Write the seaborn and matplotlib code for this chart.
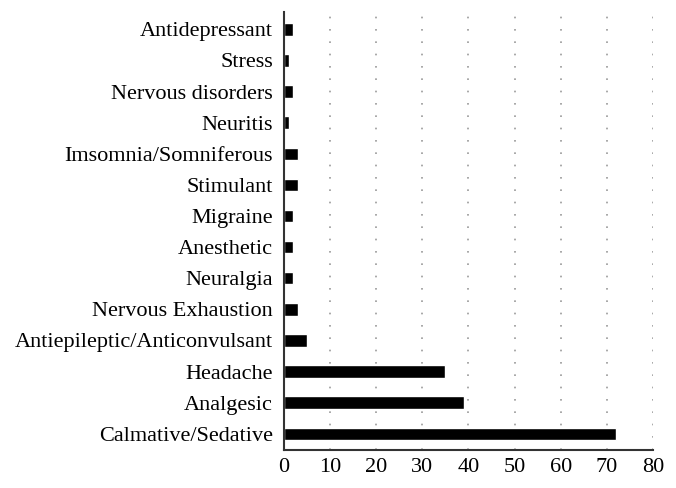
import matplotlib
matplotlib.use("Agg")
import matplotlib.pyplot as plt
import seaborn as sns
import pandas as pd

# categories listed top to bottom as in the chart
categories = ["Antidepressant", "Stress", "Nervous disorders", "Neuritis",
              "Imsomnia/Somniferous", "Stimulant", "Migraine", "Anesthetic",
              "Neuralgia", "Nervous Exhaustion", "Antiepileptic/Anticonvulsant",
              "Headache", "Analgesic", "Calmative/Sedative"]
counts = [2, 1, 2, 1, 3, 3, 2, 2, 2, 3, 5, 35, 39, 72]
xticks = [0, 10, 20, 30, 40, 50, 60, 70, 80]

df = pd.DataFrame({"use": categories, "count": counts})

sns.set_style("white")
plt.rcParams["font.family"] = ["Liberation Serif", "DejaVu Serif"]

fig = plt.figure(figsize=(6.76, 4.88), dpi=100)
ax = fig.add_axes([0.42, 0.078, 0.546, 0.897])

sns.barplot(data=df, x="count", y="use", order=categories, color="black",
            width=0.4, orient="h", ax=ax, saturation=1)

ax.set_xlim(0, 80)
ax.set_ylim(13.52, -0.55)
ax.set_xticks(xticks)
for v in xticks[1:]:
    ax.axvline(v, color="#999999", linestyle=(0, (1, 6.4)), linewidth=1.2, zorder=0)

ax.set_xlabel("")
ax.set_ylabel("")
for s in ["top", "right"]:
    ax.spines[s].set_visible(False)
for s in ["left", "bottom"]:
    ax.spines[s].set_color("#333333")
    ax.spines[s].set_linewidth(1.5)
ax.tick_params(axis="both", length=0, labelsize=16, colors="black")
ax.tick_params(axis="x", pad=6)
ax.tick_params(axis="y", pad=8)

fig.savefig("out.png", dpi=100)
